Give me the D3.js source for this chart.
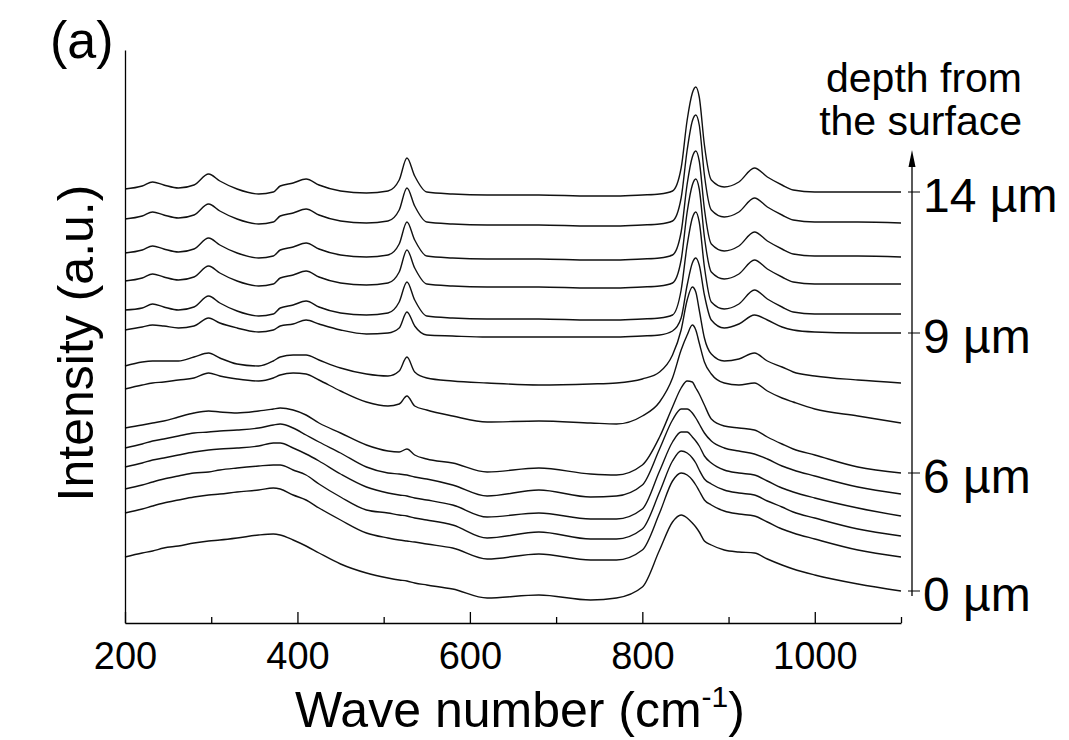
<!DOCTYPE html>
<html>
<head>
<meta charset="utf-8">
<script src="https://cdn.jsdelivr.net/npm/d3@7"></script>
<style>
  body { margin: 0; background: #fff; }
  text { font-family: "Liberation Sans", Arial, sans-serif; fill: #000; }
</style>
</head>
<body>
<svg width="1069" height="740"></svg>
<script>
// wave numbers (cm-1) where the spectra were read
var wavenumbers = [200,220,232,245,262,280,297,310,330,355,372,380,395,410,425,450,480,505,518,527,536,550,580,620,680,740,770,800,820,835,845,852,858,862,866,872,880,895,912,930,945,962,975,1000,1050,1100];

// depth of each spectrum (um), bottom to top
var depths = [0,2,3,4,5,6,7,8,9,10,11,12,13,14];

// stacked intensities (a.u.), one row per depth
var s0  = [143,147,149,152,154,157,159,160,162,165,166,165,160,154,147,136,127,122,120,119,117,115,111,102,105,100,102,113,150,178,185,182,177,173,168,159,155,150,148,147,141,135,131,125,116,109];
var s2  = [187,191,194,197,200,203,205,206,208,210,212,211,205,200,192,180,167,162,160,159,158,156,152,141,146,140,140,150,187,219,227,225,220,215,209,200,195,189,186,184,178,171,167,161,150,143];
var s3  = [211,215,218,221,224,227,228,230,232,234,235,235,230,225,216,203,190,187,185,184,182,180,175,162,168,161,161,171,208,239,249,247,242,237,230,221,216,210,207,205,199,193,188,182,171,164];
var s4  = [233,237,240,242,245,248,250,251,252,254,257,257,252,246,239,226,213,207,205,204,202,200,195,183,187,181,181,191,229,258,268,268,263,259,254,244,237,230,227,225,219,212,208,202,192,184];
var s5  = [252,256,259,261,264,267,268,269,270,272,275,276,272,265,258,247,233,227,226,225,223,221,215,204,210,203,204,215,251,280,291,291,287,282,276,267,259,252,249,246,241,234,230,224,213,206];
var s6  = [272,275,277,279,283,287,289,288,287,289,291,292,290,285,277,267,255,249,248,251,245,241,237,228,232,226,225,235,263,293,312,319,318,312,306,295,281,274,272,270,263,256,251,245,233,227];
var s7  = [311,315,317,318,320,322,327,324,321,319,322,325,327,326,320,309,298,294,296,304,294,290,284,278,279,277,276,284,298,322,350,365,375,370,357,338,326,317,315,317,309,302,298,291,284,277];
var s8  = [334,338,339,339,339,343,347,342,336,334,339,343,345,345,340,332,326,324,329,343,328,322,319,317,315,316,317,321,328,345,370,400,413,408,390,362,346,339,341,347,339,333,328,324,320,317];
var s9  = [370,373,375,374,372,374,382,377,372,368,370,374,376,380,376,370,366,367,372,388,374,365,364,363,363,363,363,364,365,369,382,415,437,442,435,405,380,372,376,385,380,373,370,368,367,367];
var s10 = [390,392,396,393,390,393,404,397,389,384,386,392,395,399,393,387,385,387,398,418,400,384,382,381,381,380,380,381,382,385,410,455,482,488,478,433,398,391,396,410,401,393,388,386,386,386];
var s11 = [419,422,426,423,420,423,434,427,419,414,416,422,425,429,423,417,415,417,428,450,432,416,414,413,413,412,412,413,414,417,440,488,515,521,511,463,428,421,426,440,431,423,418,416,416,416];
var s12 = [447,450,454,451,448,451,462,455,447,442,444,450,453,457,451,445,443,445,456,478,460,444,442,441,441,440,440,441,442,445,468,516,543,549,539,491,456,449,454,468,459,451,446,444,444,443];
var s13 = [481,484,488,485,482,485,496,489,481,476,478,484,487,491,485,479,477,479,490,512,494,478,476,475,475,474,474,475,476,479,502,550,579,585,575,525,490,483,488,502,493,485,480,478,478,477];
var s14 = [511,514,518,515,512,515,526,519,511,506,508,514,517,521,515,509,507,509,520,542,524,508,506,505,505,504,504,505,506,509,532,580,607,613,603,555,520,513,518,532,523,515,510,508,508,508];
var spectra = [s0,s2,s3,s4,s5,s6,s7,s8,s9,s10,s11,s12,s13,s14];

var xMajor = [200,400,600,800,1000];
var xMinor = [300,500,700,900,1100];
var depthLabels = [0,6,9,14];

var svg = d3.select('svg');

var x = d3.scaleLinear().domain([200,1100]).range([125,901]);
var y = d3.scaleLinear().domain([77,650]).range([623,50]);

var line = d3.line()
  .x(function(d, i){ return x(wavenumbers[i]); })
  .y(function(d){ return y(d); })
  .curve(d3.curveMonotoneX);

svg.selectAll('path.spec')
  .data(spectra)
  .enter()
  .append('path')
  .attr('class', 'spec')
  .attr('d', line)
  .attr('fill', 'none')
  .attr('stroke', '#111')
  .attr('stroke-width', 1.4);

// bottom axis
var xAxis = svg.append('g')
  .attr('transform', 'translate(0,623)')
  .call(d3.axisBottom(x).tickValues(xMajor).tickSize(-11).tickSizeOuter(0)
    .tickPadding(19).tickFormat(d3.format('d')));
xAxis.selectAll('text').attr('font-size', 38);

svg.append('g')
  .attr('transform', 'translate(0,623)')
  .call(d3.axisBottom(x).tickValues(xMinor).tickSize(-6).tickSizeOuter(0).tickFormat(''))
  .select('.domain').remove();

// left axis, no labels
svg.append('g')
  .attr('transform', 'translate(125,0)')
  .call(d3.axisLeft(d3.scaleLinear().domain([0,1]).range([623,50])).tickValues([]).tickSizeOuter(0));

svg.selectAll('.domain, .tick line').attr('stroke', '#000').attr('stroke-width', 1.3);

// depth arrow on the right
var ax = 912;
svg.append('line')
  .attr('x1', ax).attr('x2', ax)
  .attr('y1', 596).attr('y2', 160)
  .attr('stroke', '#000').attr('stroke-width', 1.3);
svg.append('path')
  .attr('d', 'M' + ax + ',150 L' + (ax - 3.5) + ',167 L' + (ax + 3.5) + ',167 Z')
  .attr('fill', '#000');

var lab = svg.selectAll('g.depth')
  .data(depthLabels)
  .enter()
  .append('g')
  .attr('class', 'depth')
  .attr('transform', function(d){
    var k = depths.indexOf(d);
    var s = spectra[k];
    return 'translate(0,' + y(s[s.length - 1]) + ')';
  });
lab.append('line')
  .attr('x1', ax - 4).attr('x2', ax + 8)
  .attr('stroke', '#000').attr('stroke-width', 1);
lab.append('text')
  .attr('x', 923).attr('y', 20)
  .attr('font-size', 48)
  .text(function(d){ return d + ' \u00b5m'; });

svg.append('text')
  .attr('x', 1022).attr('y', 92)
  .attr('text-anchor', 'end')
  .attr('font-size', 41)
  .text('depth from');
svg.append('text')
  .attr('x', 1022).attr('y', 135)
  .attr('text-anchor', 'end')
  .attr('font-size', 41)
  .text('the surface');

// axis titles
svg.append('text')
  .attr('transform', 'translate(93,343) rotate(-90)')
  .attr('text-anchor', 'middle')
  .attr('font-size', 50)
  .text('Intensity (a.u.)');

var xl = svg.append('text')
  .attr('x', 520).attr('y', 727)
  .attr('text-anchor', 'middle')
  .attr('font-size', 50);
xl.append('tspan').text('Wave number (cm');
xl.append('tspan').attr('font-size', 30).attr('dy', -20).text('-1');
xl.append('tspan').attr('dy', 20).text(')');

svg.append('text')
  .attr('x', 50).attr('y', 58)
  .attr('font-size', 52)
  .text('(a)');
</script>
</body>
</html>
